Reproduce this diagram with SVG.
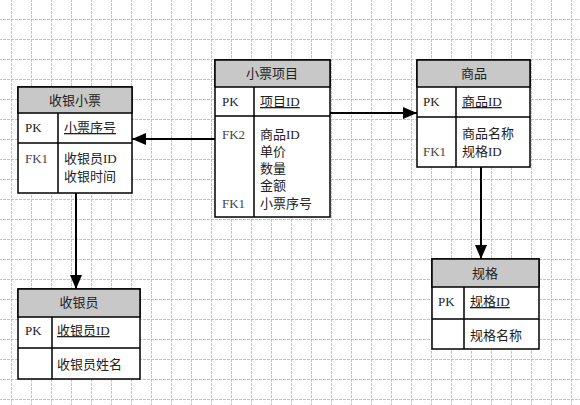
<svg xmlns="http://www.w3.org/2000/svg" width="580" height="405" viewBox="0 0 580 405">
<defs>
<pattern id="grid" x="11" y="19" width="20" height="20" patternUnits="userSpaceOnUse">
<path d="M0 0.5H20M0.5 0V20" fill="none" stroke="#c4c4c4" stroke-width="1" stroke-dasharray="3,1"/>
</pattern>
<marker id="ah" viewBox="0 0 14 12" refX="14" refY="6" markerWidth="14" markerHeight="12" markerUnits="userSpaceOnUse" orient="auto">
<path d="M0 0L14 6L0 12z" fill="#000"/>
</marker>
<style>
.box{fill:#fff;stroke:#000;stroke-width:1.5}
.hd{fill:#c8c8c8;stroke:#000;stroke-width:1.5}
.ln{stroke:#000;stroke-width:1.5;fill:none}
text{font-family:"Liberation Serif","Noto Sans CJK SC",serif;font-size:13px;fill:#222}
.t{text-anchor:middle}
.k{fill:#444}
.u{text-decoration:underline}
.c{stroke:#000;stroke-width:2;fill:none;marker-end:url(#ah)}
</style>
</defs>
<rect width="580" height="405" fill="#fff"/>
<rect width="580" height="405" fill="url(#grid)"/>

<g id="connectors">
<path class="c" d="M215 139H132"/>
<path class="c" d="M330 113H417"/>
<path class="c" d="M76 193V289"/>
<path class="c" d="M481 167V259"/>
</g>

<g id="receipt">
<rect class="box" x="18" y="87" width="114" height="106"/>
<rect class="hd" x="18" y="87" width="114" height="26"/>
<path class="ln" d="M18 143H132M58 113V193"/>
<text class="t" x="75" y="105">收银小票</text>
<text x="25" y="132">PK</text>
<text class="u" x="64" y="132">小票序号</text>
<text class="k" x="25" y="163">FK1</text>
<text x="64" y="163">收银员ID</text>
<text x="64" y="181">收银时间</text>
</g>

<g id="item">
<rect class="box" x="215" y="60" width="115" height="157"/>
<rect class="hd" x="215" y="60" width="115" height="27"/>
<path class="ln" d="M215 116H330M254 87V217"/>
<text class="t" x="272" y="78">小票项目</text>
<text x="222" y="106">PK</text>
<text class="u" x="260" y="106">项目ID</text>
<text class="k" x="222" y="139">FK2</text>
<text x="260" y="139">商品ID</text>
<text x="260" y="156">单价</text>
<text x="260" y="173">数量</text>
<text x="260" y="190">金额</text>
<text class="k" x="222" y="208">FK1</text>
<text x="260" y="208">小票序号</text>
</g>

<g id="product">
<rect class="box" x="417" y="60" width="113" height="107"/>
<rect class="hd" x="417" y="60" width="113" height="27"/>
<path class="ln" d="M417 117H530M456 87V167"/>
<text class="t" x="474" y="78">商品</text>
<text x="423" y="106">PK</text>
<text class="u" x="462" y="106">商品ID</text>
<text x="462" y="138">商品名称</text>
<text class="k" x="423" y="156">FK1</text>
<text x="462" y="156">规格ID</text>
</g>

<g id="cashier">
<rect class="box" x="18" y="289" width="122" height="90"/>
<rect class="hd" x="18" y="289" width="122" height="28"/>
<path class="ln" d="M18 348H140M52 317V379"/>
<text class="t" x="79" y="307">收银员</text>
<text x="25" y="335">PK</text>
<text class="u" x="57" y="335">收银员ID</text>
<text x="57" y="369">收银员姓名</text>
</g>

<g id="spec">
<rect class="box" x="432" y="259" width="107" height="90"/>
<rect class="hd" x="432" y="259" width="107" height="28"/>
<path class="ln" d="M432 319H539M464 287V349"/>
<text class="t" x="485" y="278">规格</text>
<text x="438" y="306">PK</text>
<text class="u" x="470" y="306">规格ID</text>
<text x="470" y="340">规格名称</text>
</g>
</svg>
